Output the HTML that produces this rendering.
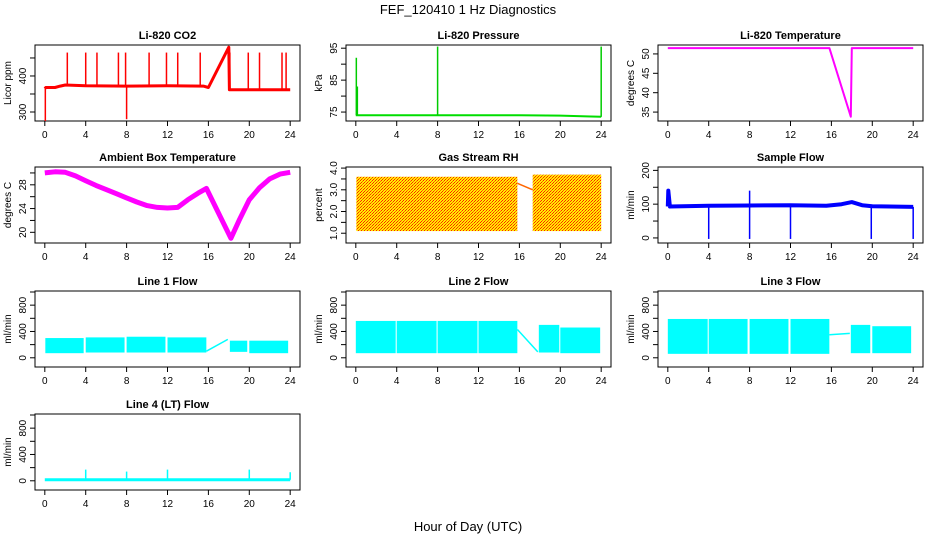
<!DOCTYPE html>
<html><head><meta charset="utf-8"><style>
html,body{margin:0;padding:0;background:#fff}
svg{display:block;font-family:"Liberation Sans",sans-serif}
</style></head><body>
<svg id="c" width="936" height="540" viewBox="0 0 936 540">
<defs>
<pattern id="rhpat" width="3" height="3" patternUnits="userSpaceOnUse">
<rect width="3" height="3" fill="#ffee00"/><rect width="1" height="1" fill="#ff2000"/><rect x="2" y="1" width="1" height="1" fill="#ff6000"/><rect x="1" y="2" width="1" height="1" fill="#ff2000"/>
</pattern>
</defs>
<text x="468" y="14" text-anchor="middle" font-size="13">FEF_120410  1 Hz Diagnostics</text>
<text x="468" y="531" text-anchor="middle" font-size="13">Hour of Day (UTC)</text>
</svg>
<script>
// ---- data ----
const xTicks = [0,4,8,12,16,20,24];
const co2Times = [0,0.1,1,1.5,2,4,8,12,15.5,16,18,18.05,20,24];
const co2Vals = [365,368,368,372,375,373,372,373,372,368,480,362,362,362];
const co2SpikeTimes = [2.2,4,5.1,7.2,7.9,10.2,11.9,13,15.2,18.1,19.9,21,23.2,23.6,0.05,8];
const co2SpikeVals = [465,465,465,465,465,465,465,465,465,465,465,465,465,465,275,280];
const presTimes = [0,16,20,23,24];
const presVals = [74,74,73.9,73.6,73.5];
const presSpikeTimes = [0.05,0.15,8,24];
const presSpikeVals = [92,83,95.5,95.5];
const tempTimes = [0,15.8,17.9,18.0,24];
const tempVals = [51.5,51.5,33.8,51.5,51.5];
const ambTimes = [0,1,2,3,4,5,6,7,8,9,10,11,12,13,14,15,15.8,18.2,19,20,21,22,23,24];
const ambVals = [30,30.2,30.1,29.5,28.7,27.9,27.2,26.5,25.8,25.1,24.5,24.2,24.1,24.2,25.5,26.6,27.4,19,22,25.5,27.5,29,29.8,30.1];
const rhBlockStart = [0.05,17.3];
const rhBlockEnd = [15.8,24];
const rhBlockLo = [1.1,1.1];
const rhBlockHi = [3.6,3.7];
const rhGapTimes = [15.8,17.3];
const rhGapVals = [3.3,3.0];
const sfTimes = [0,0.05,0.2,4,8,12,15.5,17,18,19,20,24];
const sfVals = [93,140,93,95,96,97,95,100,106,97,94,92];
const sfSpikeTimes = [4,8,12,19.9,24,8];
const sfSpikeVals = [-3,-3,-3,-3,-3,140];
const l1Start = [0.05,4,8,12,18.1,20];
const l1End = [3.8,7.8,11.8,15.8,19.8,23.8];
const l1Lo = [70,80,80,80,90,70];
const l1Hi = [300,310,320,310,260,260];
const l1GapTimes = [15.8,17.9];
const l1GapVals = [100,280];
const l2Start = [0,4,8,12,17.9,20];
const l2End = [3.9,7.9,11.9,15.8,19.9,23.9];
const l2Lo = [70,70,70,70,80,70];
const l2Hi = [560,560,560,560,500,460];
const l2GapTimes = [15.8,17.8];
const l2GapVals = [430,90];
const l3Start = [0,4,8,12,17.9,20];
const l3End = [3.9,7.8,11.8,15.8,19.8,23.8];
const l3Lo = [60,60,60,60,70,70];
const l3Hi = [590,590,590,590,500,480];
const l3GapTimes = [15.8,17.8];
const l3GapVals = [350,370];
const l4Times = [0,24];
const l4Vals = [15,15];
const l4SpikeTimes = [4,8,12,20,24];
const l4SpikeVals = [170,140,170,170,130];

// ---- drawing ----
const svg = document.getElementById('c');
const NS = 'http://www.w3.org/2000/svg';
function mk(tag, attrs, parent){const e=document.createElementNS(NS,tag);for(const k in attrs)e.setAttribute(k,attrs[k]);(parent||svg).appendChild(e);return e;}
const colX = [35,346,658], rowY = [45,167,291,414], W = 265, H = 76;

function panel(col,row,title,ylab,ydom,yticks,ylabels,name){
  const g = mk('g',{});
  
  
  const bx=colX[col], by=rowY[row];
  const sx = t => bx + (t+0.96)/25.92*W;
  const sy = v => by + H - (v-ydom[0])/(ydom[1]-ydom[0])*H;
  const tt = mk('text',{x:bx+W/2,y:by-6,'text-anchor':'middle','font-size':'11','font-weight':'bold'},g);
  tt.textContent = title;
  
  
  const box = mk('rect',{x:bx,y:by,width:W,height:H,fill:'none',stroke:'#000','stroke-width':1},g);
  
  
  xTicks.forEach(t=>{
    mk('line',{x1:sx(t),x2:sx(t),y1:by+H,y2:by+H+5,stroke:'#000'},g);
    const l=mk('text',{x:sx(t),y:by+H+17,'text-anchor':'middle','font-size':'10'},g);l.textContent=t;
    
    
  });
  yticks.forEach((v,i)=>{
    mk('line',{x1:bx-5,x2:bx,y1:sy(v),y2:sy(v),stroke:'#000'},g);
    if(ylabels[i]!==''){const y=sy(v);const l=mk('text',{x:bx-9,y:y,'text-anchor':'middle','font-size':'10',transform:`rotate(-90 ${bx-9} ${y})`},g);l.textContent=ylabels[i];
    
    }
  });
  const yl=mk('text',{x:bx-24,y:by+H/2,'text-anchor':'middle','font-size':'10',transform:`rotate(-90 ${bx-24} ${by+H/2})`},g);yl.textContent=ylab;
  
  
  const clip = mk('g',{},g);
  return {g:clip,sx,sy};
}
function line(p,ts,vs,color,w,name){
  const d=ts.map((t,i)=>(i?'L':'M')+p.sx(t).toFixed(1)+','+p.sy(vs[i]).toFixed(1)).join('');
  const e=mk('path',{d,fill:'none',stroke:color,'stroke-width':w,'stroke-linejoin':'round'},p.g);
  
  
}
function spikes(p,ts,vs,base,color,w,name){
  ts.forEach((t,i)=>{const e=mk('line',{x1:p.sx(t),x2:p.sx(t),y1:p.sy(base(t)),y2:p.sy(vs[i]),stroke:color,'stroke-width':w},p.g);
  
  });
}
function blocks(p,st,en,lo,hi,fill,name){
  st.forEach((s,i)=>{const x=p.sx(s),x2=p.sx(en[i]);const e=mk('rect',{x,y:p.sy(hi[i]),width:Math.max(1,x2-x),height:p.sy(lo[i])-p.sy(hi[i]),fill},p.g);
  
  });
}
function interp(ts,vs){return t=>{for(let i=1;i<ts.length;i++)if(t<=ts[i]){const f=(t-ts[i-1])/((ts[i]-ts[i-1])||1);return vs[i-1]+f*(vs[i]-vs[i-1]);}return vs[vs.length-1];};}

const FT=[0,200,400,600,800,1000], FL=['0','','400','','800',''], FD=[-140,1015];
let p;
p=panel(0,0,'Li-820 CO2','Licor ppm',[275,486],[300,350,400,450],['300','','400',''],'co2');
spikes(p,co2SpikeTimes,co2SpikeVals,interp(co2Times,co2Vals),'#ff0000',1.5,'co2-spike');
line(p,co2Times,co2Vals,'#ff0000',3,'co2-line');
p=panel(1,0,'Li-820 Pressure','kPa',[72.2,96],[75,80,85,90,95],['75','','85','','95'],'pressure');
line(p,presTimes,presVals,'#00dd00',2,'pressure-line');
spikes(p,presSpikeTimes,presSpikeVals,interp(presTimes,presVals),'#00cc00',1.5,'pressure-spike');
p=panel(2,0,'Li-820 Temperature','degrees C',[32.7,52.3],[35,40,45,50],['35','40','45','50'],'temperature');
line(p,tempTimes,tempVals,'#ff00ff',2,'temperature-line');
p=panel(0,1,'Ambient Box Temperature','degrees C',[18.2,31],[20,22,24,26,28,30],['20','','24','','28',''],'ambient');
line(p,ambTimes,ambVals,'#ff00ff',5,'ambient-line');
p=panel(1,1,'Gas Stream RH','percent',[0.55,4.05],[1,1.5,2,2.5,3,3.5,4],['1.0','','2.0','','3.0','','4.0'],'rh');
blocks(p,rhBlockStart,rhBlockEnd,rhBlockLo,rhBlockHi,'url(#rhpat)','rh-band');
line(p,rhGapTimes,rhGapVals,'#ff6600',1.5,'rh-gap-line');
p=panel(2,1,'Sample Flow','ml/min',[-15,210],[0,50,100,150,200],['0','','100','','200'],'sample-flow');
spikes(p,sfSpikeTimes,sfSpikeVals,interp(sfTimes,sfVals),'#0000ff',1.5,'sample-flow-spike');
line(p,sfTimes,sfVals,'#0000ff',4,'sample-flow-line');
p=panel(0,2,'Line 1 Flow','ml/min',FD,FT,FL,'line1');
blocks(p,l1Start,l1End,l1Lo,l1Hi,'#00ffff','line1-band');
line(p,l1GapTimes,l1GapVals,'#00ffff',1.5,'line1-gap-line');
p=panel(1,2,'Line 2 Flow','ml/min',FD,FT,FL,'line2');
blocks(p,l2Start,l2End,l2Lo,l2Hi,'#00ffff','line2-band');
line(p,l2GapTimes,l2GapVals,'#00ffff',1.5,'line2-gap-line');
p=panel(2,2,'Line 3 Flow','ml/min',FD,FT,FL,'line3');
blocks(p,l3Start,l3End,l3Lo,l3Hi,'#00ffff','line3-band');
line(p,l3GapTimes,l3GapVals,'#00ffff',1.5,'line3-gap-line');
p=panel(0,3,'Line 4 (LT) Flow','ml/min',FD,FT,FL,'line4');
line(p,l4Times,l4Vals,'#00ffff',3,'line4-line');
spikes(p,l4SpikeTimes,l4SpikeVals,interp(l4Times,l4Vals),'#00ffff',1.5,'line4-spike');
</script>
</body></html>
